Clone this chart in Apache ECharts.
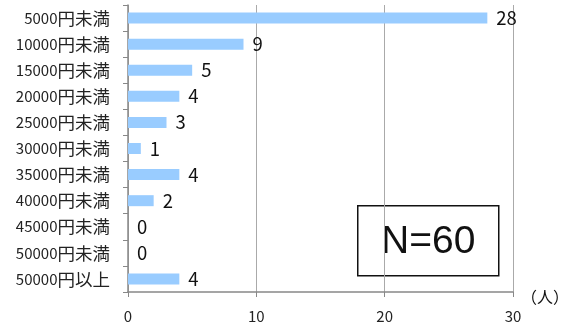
<!DOCTYPE html>
<html>
<head>
<meta charset="utf-8">
<script src="https://cdn.jsdelivr.net/npm/echarts@6/dist/echarts.min.js"></script>
<style>
  html, body { margin: 0; padding: 0; background: #fff; }
  #chart { width: 564px; height: 328px; }
</style>
</head>
<body>
<div id="chart"></div>
<script>
// data
var categories = ['5000円未満', '10000円未満', '15000円未満', '20000円未満', '25000円未満',
  '30000円未満', '35000円未満', '40000円未満', '45000円未満', '50000円未満', '50000円以上'];
var counts = [28, 9, 5, 4, 3, 1, 4, 2, 0, 0, 4];
var xTicks = [0, 10, 20, 30];
var unitLabel = '（人）';
var totalLabel = 'N=60';

var font = '"Noto Sans CJK JP", "Liberation Sans", sans-serif';

// digits and kanji are drawn at slightly different sizes in the original
function splitLabel(s) {
  var m = s.match(/^(\d+)(.*)$/);
  if (!m) return s;
  return '{n|' + m[1] + '}{k|' + m[2] + '}';
}

var myChart = echarts.init(document.getElementById('chart'));
var option = {
  animation: false,
  grid: { left: 128, right: 51, top: 5, bottom: 36 },
  xAxis: {
    type: 'value',
    min: xTicks[0],
    max: xTicks[xTicks.length - 1],
    interval: 10,
    axisLine: { show: true, lineStyle: { color: '#888', width: 1.5 } },
    axisTick: { show: true, length: 5, lineStyle: { color: '#888' } },
    splitLine: { show: true, lineStyle: { color: '#aaa', width: 1 } },
    axisLabel: { margin: 17, color: '#222', fontSize: 15, fontFamily: font }
  },
  yAxis: {
    type: 'category',
    data: categories,
    inverse: true,
    axisLine: { show: true, lineStyle: { color: '#888', width: 1.5 } },
    axisTick: { show: true, length: 5, lineStyle: { color: '#888' } },
    axisLabel: {
      margin: 18,
      color: '#222',
      fontFamily: font,
      formatter: splitLabel,
      rich: {
        n: { fontSize: 15, fontFamily: font, color: '#222' },
        k: { fontSize: 17.5, fontFamily: font, color: '#222' }
      }
    }
  },
  series: [{
    type: 'bar',
    data: counts,
    barWidth: 11,
    itemStyle: { color: '#99ccff' },
    label: {
      show: true,
      position: 'right',
      distance: 9,
      color: '#111',
      fontSize: 18.5,
      fontFamily: font
    }
  }],
  graphic: [
    {
      type: 'text',
      left: 521,
      top: 289,
      style: { text: unitLabel, fill: '#111', font: '16px ' + font }
    },
    {
      type: 'group',
      left: 357,
      top: 205,
      children: [
        {
          type: 'rect',
          shape: { x: 0, y: 0, width: 141, height: 70 },
          style: { fill: '#fff', stroke: '#111', lineWidth: 1.5 }
        },
        {
          type: 'text',
          x: 70.5,
          y: 36,
          style: {
            text: totalLabel,
            font: '39px "Liberation Sans", sans-serif',
            fill: '#111',
            align: 'center',
            verticalAlign: 'middle'
          }
        }
      ]
    }
  ]
};
myChart.setOption(option);
</script>
</body>
</html>
